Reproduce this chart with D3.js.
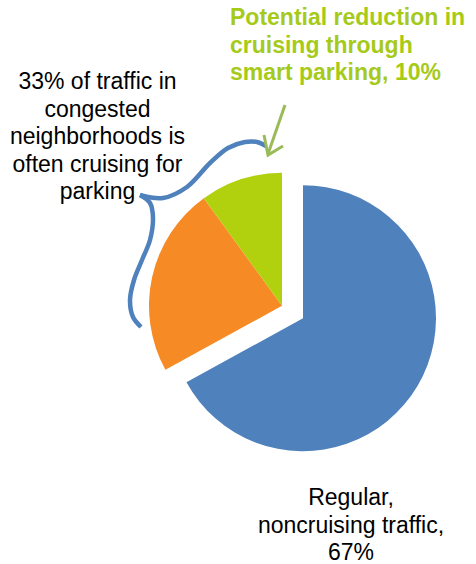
<!DOCTYPE html>
<html>
<head>
<meta charset="utf-8">
<script src="https://cdn.jsdelivr.net/npm/d3@7/dist/d3.min.js"></script>
<style>
  html, body { margin: 0; padding: 0; background: #fff; }
  svg { display: block; font-family: "Liberation Sans", Arial, sans-serif; }
</style>
</head>
<body>
<svg id="chart" width="476" height="564"></svg>
<script>
// Share of traffic in congested neighborhoods (%)
const categories = ["Regular, noncruising traffic", "Cruising for parking", "Potential reduction in cruising through smart parking"];
const values = [67, 23, 10];
const colors = ["#4F81BD", "#F68A24", "#B1D10F"];
// slice group: 0 = regular traffic, 1 = cruising (pulled out together)
const groups = [0, 1, 1];

const regularLabel = ["Regular,", "noncruising traffic,", "67%"];
const cruisingLabel = ["33% of traffic in", "congested", "neighborhoods is", "often cruising for", "parking"];
const reductionLabel = ["Potential reduction in", "cruising through", "smart parking, 10%"];

const svg = d3.select("#chart");
const cx = 292.5, cy = 312, radius = 133, explode = 12.2;

const pie = d3.pie().sort(null).value(d => d)(values);
const arc = d3.arc().innerRadius(0).outerRadius(radius);

// bisector angle of each group, used to pull the groups apart
const groupAngle = {};
[0, 1].forEach(g => {
  const members = pie.filter((p, i) => groups[i] === g);
  const a0 = d3.min(members, p => p.startAngle);
  const a1 = d3.max(members, p => p.endAngle);
  groupAngle[g] = (a0 + a1) / 2;
});

svg.append("g")
  .selectAll("path")
  .data(pie)
  .join("path")
  .attr("d", arc)
  .attr("fill", (d, i) => colors[i])
  .attr("transform", (d, i) => {
    const a = groupAngle[groups[i]];
    return `translate(${cx + explode * Math.sin(a)},${cy - explode * Math.cos(a)})`;
  });

// curly brace around the cruising share
const brace = d3.line().curve(d3.curveCatmullRom.alpha(0.5));
const upperArm = [[140,195],[163,198],[187,187],[210,163],[228,148],[245,142],[257,142],[266,146]];
const lowerArm = [[140,195],[150,203],[153,218],[150,240],[142,260],[134,280],[130,300],[133,317],[141,327]];
[upperArm, lowerArm].forEach(pts => {
  svg.append("path")
    .attr("d", brace(pts))
    .attr("fill", "none")
    .attr("stroke", "#4F81BD")
    .attr("stroke-width", 4.5)
    .attr("stroke-linecap", "butt");
});

// arrow pointing at the reduction slice
const arrowColor = "#9BBB59";
svg.append("line")
  .attr("x1", 285).attr("y1", 105).attr("x2", 268).attr("y2", 154)
  .attr("stroke", arrowColor).attr("stroke-width", 3);
svg.append("path")
  .attr("d", "M264,135 L268,155 L283,146")
  .attr("fill", "none")
  .attr("stroke", arrowColor)
  .attr("stroke-width", 3)
  .attr("stroke-linejoin", "miter");

// labels
function block(lines, x, y0, anchor, opts) {
  const t = svg.append("text")
    .attr("text-anchor", anchor)
    .attr("font-size", 23)
    .attr("fill", opts.fill)
    .attr("font-weight", opts.weight || "normal");
  lines.forEach((s, i) => {
    t.append("tspan").attr("x", x).attr("y", y0 + i * 27.5).text(s);
  });
}

block(reductionLabel, 230, 25, "start", { fill: "#A6CA1A", weight: "bold" });
block(cruisingLabel, 97.5, 89, "middle", { fill: "#000" });
block(regularLabel, 351, 505, "middle", { fill: "#000" });
</script>
</body>
</html>
